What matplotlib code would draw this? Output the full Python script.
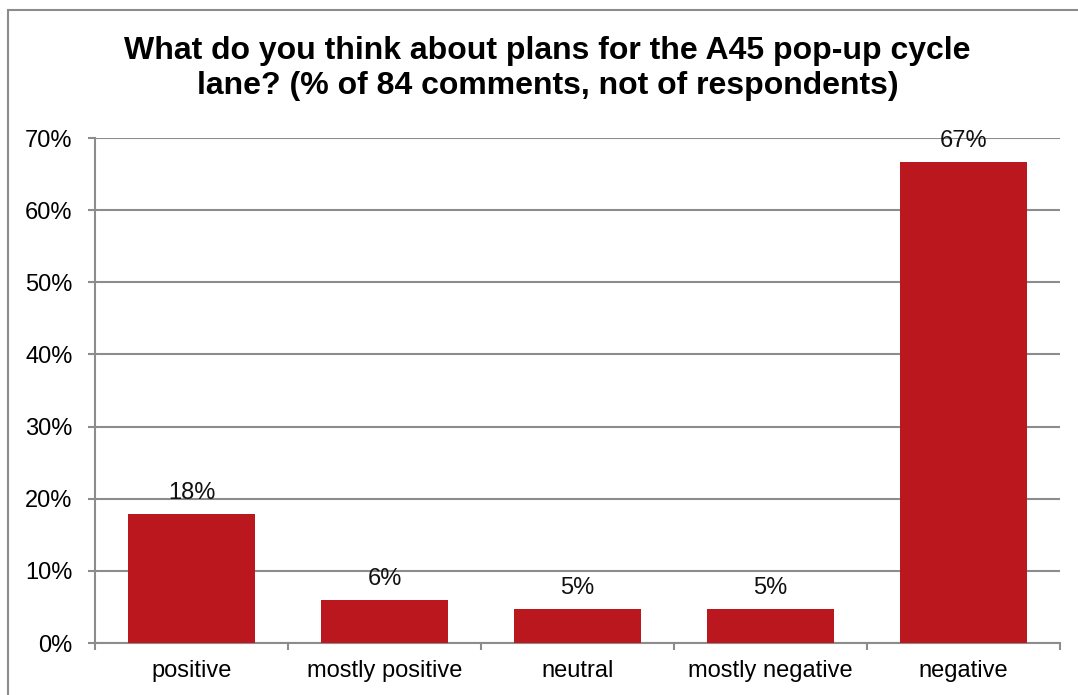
import matplotlib

matplotlib.use('Agg')
import matplotlib.pyplot as plt
from matplotlib.patches import Rectangle
from matplotlib.ticker import FuncFormatter, MultipleLocator
import numpy as np

categories = ['positive', 'mostly positive', 'neutral', 'mostly negative', 'negative']
share_pct = [17.86, 5.95, 4.76, 4.76, 66.67]

TITLE = ('What do you think about plans for the A45 pop-up cycle\n'
         'lane? (% of 84 comments, not of respondents)')
BAR = '#BA171F'
GRID = '#8C8C8C'

plt.rcParams['font.family'] = ['Liberation Sans', 'DejaVu Sans']

fig = plt.figure(figsize=(10.78, 6.95), dpi=100)
ax = fig.add_axes([0.0881, 0.0748, 0.8952, 0.7266])

x = np.arange(len(categories))
ax.bar(x, share_pct, width=0.66, color=BAR, zorder=3)

for xi, v in zip(x, share_pct):
    ax.annotate(f'{v:.0f}%', xy=(xi, v), xytext=(0, 7), textcoords='offset points',
                ha='center', va='bottom', fontsize=17, color='#111111', zorder=4)

ax.set_xlim(-0.5, len(categories) - 0.5)
ax.set_ylim(0, 70)
ax.yaxis.set_major_locator(MultipleLocator(10))
ax.yaxis.set_major_formatter(FuncFormatter(lambda v, _: f'{v:.0f}%'))
ax.grid(axis='y', color=GRID, linewidth=1.5, zorder=0)
ax.set_axisbelow(True)

# category labels centred, tick marks at the category boundaries
ax.set_xticks(x)
ax.set_xticklabels(categories)
ax.set_xticks(np.arange(len(categories) + 1) - 0.5, minor=True)
ax.tick_params(axis='x', which='major', length=0, pad=12, labelsize=17)
ax.tick_params(axis='x', which='minor', length=5, width=1.5, color=GRID, direction='out')
ax.tick_params(axis='y', length=5, width=1.5, color=GRID, pad=11, labelsize=17)

for side in ('top', 'right'):
    ax.spines[side].set_visible(False)
for side in ('left', 'bottom'):
    ax.spines[side].set_color(GRID)
    ax.spines[side].set_linewidth(1.5)

fig.text(0.508, 0.902, TITLE, ha='center', va='center', fontsize=23,
         fontweight='bold', linespacing=1.22)

# outer chart frame
fig.patches.append(Rectangle((8 / 1078, -0.05), 1.2, (695 - 10) / 695 + 0.05,
                             transform=fig.transFigure, fill=False,
                             edgecolor='#8C8C8C', linewidth=1.5))

fig.savefig('out.png', dpi=100)
